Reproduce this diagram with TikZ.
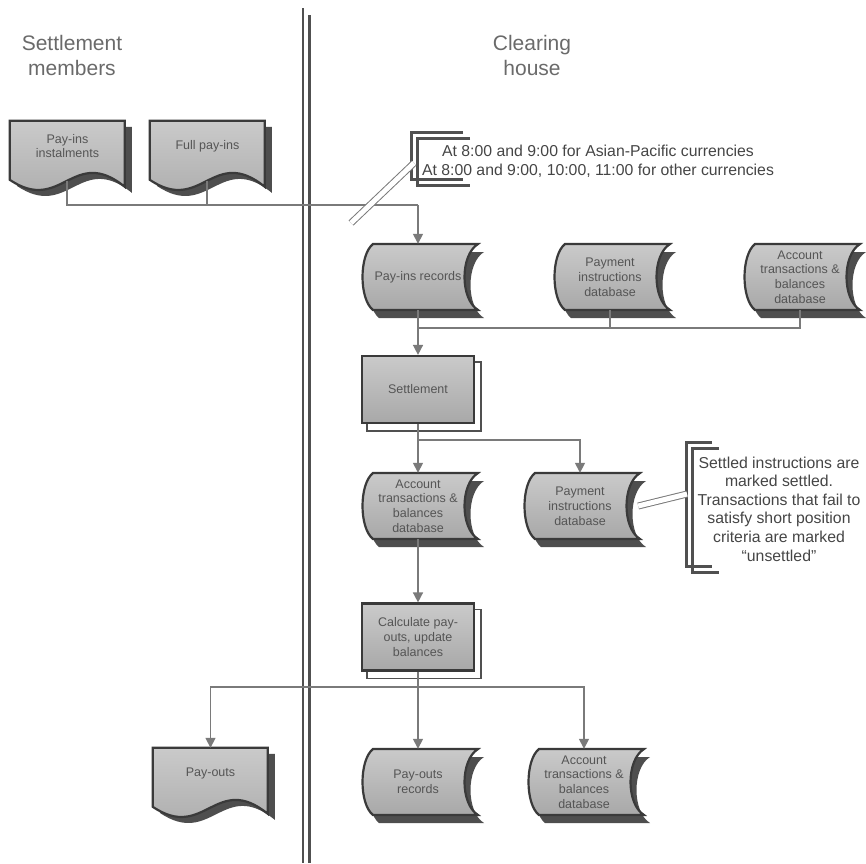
\documentclass[tikz,border=0pt]{standalone}
\usepackage{fontspec}
\setmainfont{Liberation Sans}
\usetikzlibrary{arrows.meta,calc,backgrounds}

\definecolor{inkdark}{HTML}{3A3A3A}
\definecolor{shadowgray}{HTML}{4E4E4E}
\definecolor{fillhi}{HTML}{CACACA}
\definecolor{filllo}{HTML}{A8A8A8}
\definecolor{linegray}{HTML}{7A7A7A}
\definecolor{textgray}{HTML}{555555}
\definecolor{titlegray}{HTML}{6A6A6A}
\definecolor{notegray}{HTML}{454545}
\definecolor{lanegray}{HTML}{505050}

\tikzset{
  lbl/.style={font=\fontsize{12.5}{14.8}\selectfont, text=textgray, align=center, inner sep=0pt},
  docnode/.style={lbl, minimum width=115pt, minimum height=50pt},
  dbnode/.style={lbl, minimum width=116pt, minimum height=66pt},
  procbox/.style={lbl, draw=inkdark, line width=2.2pt, top color=fillhi, bottom color=filllo,
    minimum width=112pt, minimum height=67pt},
  backbox/.style={draw=lanegray, line width=1.4pt, fill=white},
  shapeface/.style={draw=inkdark, line width=2.2pt, top color=fillhi, bottom color=filllo},
  shapeshadow/.style={fill=shadowgray},
  conn/.style={draw=linegray, line width=1.5pt},
  connarrow/.style={conn, -{Triangle[width=10pt,length=10pt]}},
  title/.style={font=\fontsize{21}{25}\selectfont, text=titlegray, align=center, inner sep=0pt},
  note/.style={font=\fontsize{15.8}{18.6}\selectfont, text=notegray, align=center, inner sep=0pt},
  bracket/.style={draw=lanegray, line width=3pt},
  notelink/.style={draw=linegray, line width=1pt, double=white, double distance=5pt},
  lane/.style={draw=lanegray, line width=2.8pt},
}

% document symbol (wavy bottom) with its drop shadow
\newcommand\docshape[1]{%
  \begin{scope}[shift={(#1.north west)}]
    \path[shapeshadow, shift={(7,6)}] (0,0) -- (115,0) -- (115,66)
      .. controls (63.25,24) and (51.75,94) .. (0,59) -- cycle;
    \path[shapeface] (0,0) -- (115,0) -- (115,66)
      .. controls (63.25,24) and (51.75,94) .. (0,59) -- cycle;
  \end{scope}}

% stored-data symbol (convex left, concave right) with its drop shadow
\newcommand\dbshape[1]{%
  \begin{scope}[shift={(#1.center)}]
    \path[shapeshadow, shift={(6,8)}] (-45,-33) -- (60,-33)
      .. controls (42,-22) and (42,22) .. (60,33) -- (-45,33)
      .. controls (-59,22) and (-59,-22) .. (-45,-33) -- cycle;
    \path[shapeface] (-45,-33) -- (60,-33)
      .. controls (42,-22) and (42,22) .. (60,33) -- (-45,33)
      .. controls (-59,22) and (-59,-22) .. (-45,-33) -- cycle;
  \end{scope}}

% second sheet behind a multiple-process box
\newcommand\procback[1]{%
  \path[backbox] ($(#1.north west)+(6,7)$) rectangle ($(#1.south east)+(6,7)$);}

\begin{document}
\begin{tikzpicture}[x=1pt, y=-1pt]
\useasboundingbox (0,0) rectangle (866,863);

% lane titles
\node[title] (tsm) at (72,55) {Settlement\\members};
\node[title] (tch) at (532,55) {Clearing\\house};

% flow symbols
\node[docnode] (pinst)   at (67.5,146)  {Pay-ins\\instalments};
\node[docnode] (fpay)    at (207.5,146) {Full pay-ins};
\node[dbnode]  (pir)     at (418,277)   {Pay-ins records};
\node[dbnode]  (pdb1)    at (610,277)   {Payment\\instructions\\database};
\node[dbnode]  (adb1)    at (800,277)   {Account\\transactions \&\\balances\\database};
\node[procbox] (settle)  at (418,389.5) {Settlement};
\node[dbnode]  (adb2)    at (418,506)   {Account\\transactions \&\\balances\\database};
\node[dbnode]  (pdb2)    at (580,506)   {Payment\\instructions\\database};
\node[procbox] (calc)    at (418,637)   {Calculate pay-\\outs, update\\balances};
\node[docnode] (payouts) at (210.5,773) {Pay-outs};
\node[dbnode]  (porec)   at (418,782)   {Pay-outs\\records};
\node[dbnode]  (adb3)    at (584,782)   {Account\\transactions \&\\balances\\database};

% annotations
\node[note] (ann1) at (598,161) {At 8:00 and 9:00 for Asian-Pacific currencies\\At 8:00 and 9:00, 10:00, 11:00 for other currencies};
\node[note] (ann2) at (779,509) {Settled instructions are\\marked settled.\\Transactions that fail to\\satisfy short position\\criteria are marked\\“unsettled”};

% symbol outlines, shadows and the lane divider go underneath
\begin{pgfonlayer}{background}
  \draw[lane] (303,8) -- (303,863);
  \draw[lane] (309.5,15) -- (309.5,863);
  \docshape{pinst}
  \docshape{fpay}
  \docshape{payouts}
  \dbshape{pir}
  \dbshape{pdb1}
  \dbshape{adb1}
  \dbshape{adb2}
  \dbshape{pdb2}
  \dbshape{porec}
  \dbshape{adb3}
  \procback{settle}
  \procback{calc}
\end{pgfonlayer}

% junction points of the connectors
\coordinate (pinst-w) at ($(pinst.north west)+(57,60)$);
\coordinate (fpay-w)  at ($(fpay.north west)+(57,60)$);
\coordinate (j1) at (418,205);
\coordinate (j2) at (418,328);
\coordinate (j3) at (418,440);
\coordinate (j4) at (418,687);

% connectors
\draw[conn] (pinst-w) |- (j1);
\draw[conn] (fpay-w) -- (fpay-w |- j1);
\draw[connarrow] (j1) -- (pir.north);
\draw[conn] (pir.south) -- (j2);
\draw[conn] (pdb1.south) |- (j2);
\draw[conn] (adb1.south) |- (j2);
\draw[connarrow] (j2) -- (settle.north);
\draw[conn] (settle.south) -- (j3);
\draw[connarrow] (j3) -- (adb2.north);
\draw[connarrow] (j3) -| (pdb2.north);
\draw[connarrow] (adb2.south) -- (calc.north);
\draw[conn] (calc.south) -- (j4);
\draw[connarrow] (j4) -- (porec.north);
\draw[connarrow] (j4) -| (payouts.north);
\draw[connarrow] (j4) -| (adb3.north);

% annotation brackets and their links
\draw[bracket] (463,132) -- (411,132) -- (411,179) -- (463,179);
\draw[bracket] (470,138) -- (417,138) -- (417,185) -- (470,185);
\draw[bracket] (712,442) -- (686,442) -- (686,566) -- (712,566);
\draw[bracket] (719,448) -- (692,448) -- (692,572) -- (719,572);

\coordinate (ann1-hook) at (414,163);
\coordinate (ann1-end)  at (351,223);
\coordinate (ann2-hook) at (687,494);
\draw[notelink] (ann1-hook) -- (ann1-end);
\draw[notelink] (pdb2.east) -- (ann2-hook);
\end{tikzpicture}
\end{document}
